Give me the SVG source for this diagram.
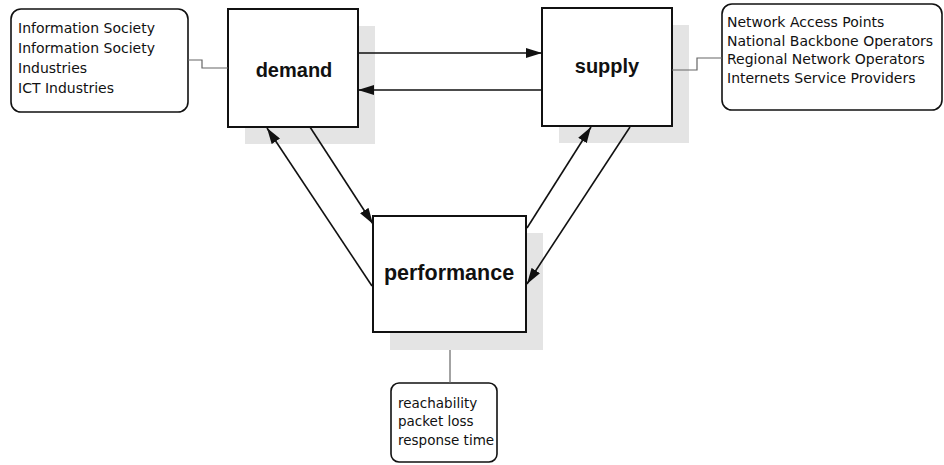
<svg xmlns="http://www.w3.org/2000/svg" width="944" height="465" viewBox="0 0 944 465">
<style>
.box{fill:#fff;stroke:#111;stroke-width:2}
.shadow{fill:#e4e4e4}
.info{fill:#fff;stroke:#111;stroke-width:1.6}
.label{font-family:"Liberation Sans",Arial,sans-serif;font-weight:bold;font-size:20px;fill:#111;text-anchor:middle}
.txt{font-family:"DejaVu Sans","Liberation Sans",sans-serif;font-size:14px;fill:#111}
.arr{stroke:#111;stroke-width:1.6;fill:none;marker-end:url(#ahb)}
.thin{stroke:#666;stroke-width:1.2;fill:none}
</style>
<defs>
<marker id="ahb" viewBox="0 0 16 10" refX="16" refY="5" markerWidth="16" markerHeight="10" markerUnits="userSpaceOnUse" orient="auto">
<path d="M0,0 L16,5 L0,10 z" fill="#111"/>
</marker>
</defs>
<rect width="944" height="465" fill="#fff"/>

<g id="demand">
<rect class="shadow" x="245" y="26" width="130" height="118"/>
<rect class="box" x="228" y="9" width="130" height="118"/>
<text class="label" x="294" y="77">demand</text>
</g>

<g id="supply">
<rect class="shadow" x="559" y="25" width="130" height="118"/>
<rect class="box" x="542" y="8" width="130" height="118"/>
<text class="label" x="607" y="73">supply</text>
</g>

<g id="performance">
<rect class="shadow" x="390" y="233" width="153" height="117"/>
<rect class="box" x="373" y="216" width="153" height="116"/>
<text class="label" x="449" y="280" style="font-size:21.5px">performance</text>
</g>

<g id="demand-info">
<rect class="info" x="11" y="9" width="177" height="103" rx="10"/>
<text class="txt" x="18" y="33">Information Society</text>
<text class="txt" x="18" y="53">Information Society</text>
<text class="txt" x="18" y="73">Industries</text>
<text class="txt" x="18" y="93">ICT Industries</text>
</g>

<g id="supply-info">
<rect class="info" x="722" y="4" width="220" height="106" rx="10"/>
<text class="txt" x="727" y="27">Network Access Points</text>
<text class="txt" x="727" y="46">National Backbone Operators</text>
<text class="txt" x="727" y="64">Regional Network Operators</text>
<text class="txt" x="727" y="83">Internets Service Providers</text>
</g>

<g id="performance-info">
<rect class="info" x="391" y="383" width="106" height="79" rx="8"/>
<text class="txt" x="398" y="408" style="font-size:13.5px">reachability</text>
<text class="txt" x="398" y="426" style="font-size:13.5px">packet loss</text>
<text class="txt" x="398" y="445" style="font-size:13.5px">response time</text>
</g>

<g id="connectors">
<path class="thin" d="M188,60 H202 V68 H228"/>
<path class="thin" d="M672,70 H697 V58 H722"/>
<path class="thin" d="M450,350 V383"/>
<line class="arr" x1="358" y1="53" x2="542" y2="53"/>
<line class="arr" x1="542" y1="90" x2="358" y2="90"/>
<line class="arr" x1="372" y1="286" x2="267" y2="128"/>
<line class="arr" x1="310" y1="127" x2="373" y2="224"/>
<line class="arr" x1="527" y1="228" x2="591" y2="127"/>
<line class="arr" x1="630" y1="127" x2="527" y2="284"/>
</g>
</svg>
